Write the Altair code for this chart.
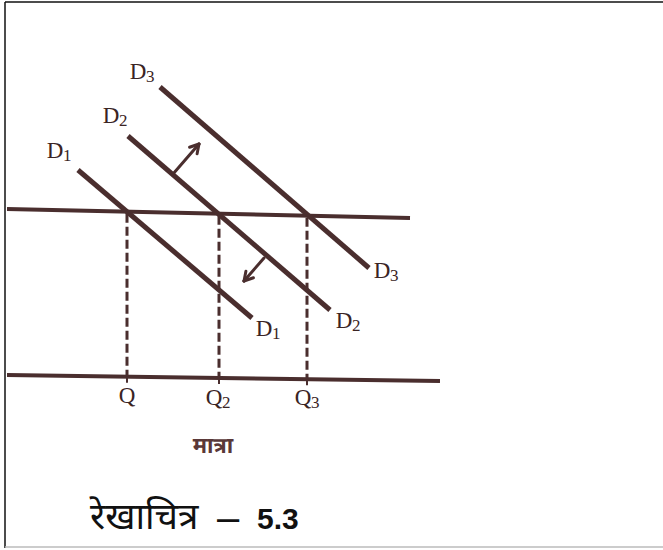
import math
import altair as alt
import pandas as pd

W, H = 663, 550
INK = "#4a2e2e"
TEXT_INK = "#3a2424"

# Demand curves D1, D2, D3 (left end -> right end), drawing units: x to the right, y downward
curve_names = ["D1", "D2", "D3"]
curve_x_start = [78, 128, 160]
curve_y_start = [170, 136, 87]
curve_x_end = [252, 330, 369]
curve_y_end = [318, 310, 268]

# Price line and quantity axis (slightly tilted as printed)
hline_names = ["price", "quantity"]
hline_x_start = [7, 7]
hline_y_start = [209, 375]
hline_x_end = [410, 440]
hline_y_end = [218, 381]

# Equilibrium quantities on the quantity axis
q_names = ["Q", "Q2", "Q3"]
q_positions = [127, 219, 307]

# Shift arrows on D2: (start x, start y, tip x, tip y)
arrow_x_start = [173, 264]
arrow_y_start = [174, 258]
arrow_x_tip = [199, 244]
arrow_y_tip = [144, 281]

# Curve labels: base letter, subscript, anchor position
label_base = ["D", "D", "D", "D", "D", "D", "Q", "Q", "Q"]
label_sub = ["1", "2", "3", "1", "2", "3", "", "2", "3"]
label_x = [55, 111, 138, 264, 344, 382, 127, 214, 303]
label_y = [151, 116, 72, 329, 321, 271, 396, 398, 398]

axis_title = "मात्रा"

# Figure caption pieces and their left edges
caption_parts = ["रेखाचित्र", "–", "5.3"]
caption_x = [90, 217, 257]
caption_style = ["deva", "dash", "num"]

xs = alt.Scale(domain=[0, W], nice=False, zero=False)
ys = alt.Scale(domain=[0, H], nice=False, zero=False, reverse=True)
X = alt.X("x:Q", scale=xs, axis=None)
Y = alt.Y("y:Q", scale=ys, axis=None)


def seg_encode(base):
    return base.encode(x=X, y=Y, x2="x2:Q", y2="y2:Q")


def y_on(line_idx, x):
    x0, x1 = hline_x_start[line_idx], hline_x_end[line_idx]
    y0, y1 = hline_y_start[line_idx], hline_y_end[line_idx]
    return y0 + (y1 - y0) * (x - x0) / (x1 - x0)


curves = pd.DataFrame({
    "name": curve_names,
    "x": curve_x_start, "y": curve_y_start,
    "x2": curve_x_end, "y2": curve_y_end,
})
hlines = pd.DataFrame({
    "name": hline_names,
    "x": hline_x_start, "y": hline_y_start,
    "x2": hline_x_end, "y2": hline_y_end,
})
drops = pd.DataFrame({
    "name": q_names,
    "x": q_positions,
    "y": [y_on(0, q) + 2 for q in q_positions],
    "x2": q_positions,
    "y2": [y_on(1, q) for q in q_positions],
})
ticks = pd.DataFrame({
    "x": q_positions,
    "y": [y_on(1, q) for q in q_positions],
    "x2": q_positions,
    "y2": [y_on(1, q) + 6 for q in q_positions],
})

# arrow shafts and open heads
arrow_rows = []
for xa, ya, xb, yb in zip(arrow_x_start, arrow_y_start, arrow_x_tip, arrow_y_tip):
    arrow_rows.append({"x": xa, "y": ya, "x2": xb, "y2": yb})
    ang = math.atan2(yb - ya, xb - xa)
    for da in (math.radians(150), math.radians(-150)):
        arrow_rows.append({
            "x": xb, "y": yb,
            "x2": xb + 10 * math.cos(ang + da),
            "y2": yb + 10 * math.sin(ang + da),
        })
arrows = pd.DataFrame(arrow_rows)

labels = pd.DataFrame({
    "base": label_base, "sub": label_sub, "x": label_x, "y": label_y,
})

frame = pd.DataFrame({
    "x": [5, 5, 5], "y": [2, 2, 547],
    "x2": [663, 5, 663], "y2": [2, 548, 547],
    "c": ["#111111", "#111111", "#bbbbbb"],
})

frame_layer = seg_encode(alt.Chart(frame).mark_rule(strokeWidth=1.5)).encode(
    color=alt.Color("c:N", scale=None)
)
hline_layer = seg_encode(alt.Chart(hlines).mark_rule(color=INK, strokeWidth=4))
curve_layer = seg_encode(alt.Chart(curves).mark_rule(color=INK, strokeWidth=5))
drop_layer = seg_encode(
    alt.Chart(drops).mark_rule(color=INK, strokeWidth=3, strokeDash=[9, 4])
)
tick_layer = seg_encode(alt.Chart(ticks).mark_rule(color=INK, strokeWidth=2))
arrow_layer = seg_encode(
    alt.Chart(arrows).mark_rule(color=INK, strokeWidth=3, strokeCap="round")
)

base_text = alt.Chart(labels).mark_text(
    font="Liberation Serif", fontSize=23, color=TEXT_INK, align="center", baseline="middle"
).encode(x=X, y=Y, text="base:N")
sub_text = alt.Chart(labels).mark_text(
    font="Liberation Serif", fontSize=17, color=TEXT_INK, align="left", baseline="middle",
    dx=8, dy=5,
).encode(x=X, y=Y, text="sub:N")

title_layer = alt.Chart(pd.DataFrame({"t": [axis_title], "x": [213], "y": [446]})).mark_text(
    font="Noto Sans Devanagari, Lohit Devanagari, sans-serif", fontSize=22, fontWeight="bold",
    color="#5a3838", align="center", baseline="middle",
).encode(x=X, y=Y, text="t:N")

caption_df = pd.DataFrame({
    "t": caption_parts, "x": caption_x, "y": [518] * 3, "s": caption_style,
})
caption_deva = alt.Chart(caption_df).transform_filter(
    alt.datum.s == "deva"
).mark_text(
    font="Noto Sans Devanagari, Lohit Devanagari, Liberation Sans, sans-serif", fontSize=37,
    color="#111111", align="left", baseline="middle",
).encode(x=X, y=Y, text="t:N")
caption_dash = alt.Chart(caption_df).transform_filter(
    alt.datum.s == "dash"
).mark_text(
    font="Liberation Sans", fontSize=40, color="#111111", align="left", baseline="middle",
    dy=1,
).encode(x=X, y=Y, text="t:N")
caption_num = alt.Chart(caption_df).transform_filter(
    alt.datum.s == "num"
).mark_text(
    font="Liberation Sans Narrow, Liberation Sans, sans-serif", fontSize=30, fontWeight="bold",
    color="#111111", align="left", baseline="middle", dy=2,
).encode(x=X, y=Y, text="t:N")

chart = alt.layer(
    frame_layer, hline_layer, drop_layer, tick_layer, curve_layer, arrow_layer,
    base_text, sub_text, title_layer, caption_deva, caption_dash, caption_num,
).properties(
    width=W, height=H, padding=0, autosize=alt.AutoSizeParams(type="none"),
    background="white",
).configure_view(stroke=None)

chart.save("out.html", embed_options={"renderer": "svg", "actions": False})
